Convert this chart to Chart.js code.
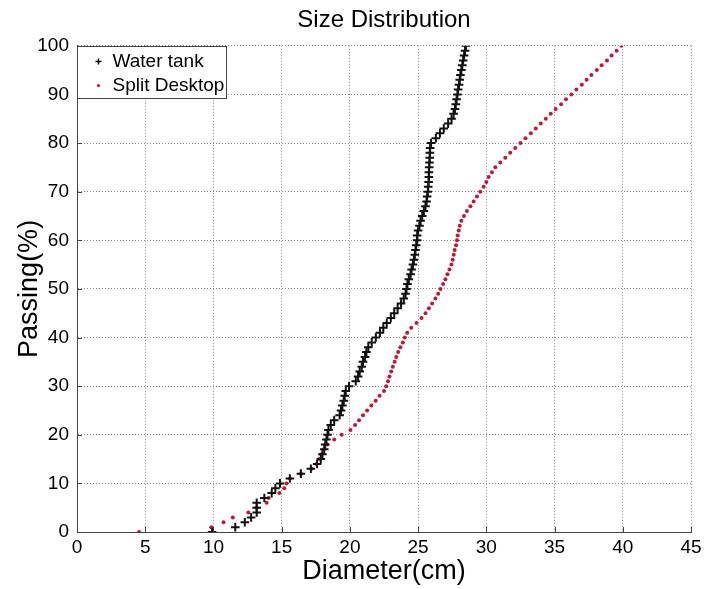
<!DOCTYPE html>
<html>
<head>
<meta charset="utf-8">
<script src="https://cdn.jsdelivr.net/npm/chart.js@4/dist/chart.umd.min.js"></script>
<style>
html,body{margin:0;padding:0;background:#fff;}
#wrap{width:706px;height:589px;}
</style>
</head>
<body>
<div id="wrap"><canvas id="c" width="706" height="589"></canvas></div>
<script>
// Passing levels (%), shared by both series
const passing = [];
for (let p = 0; p <= 100; p++) passing.push(p);

// Water tank diameters (cm) at each passing level
const waterTank = [
  9.9, 11.6, 12.3, 12.76, 13.17, 13.17, 13.17, 13.73, 14.27, 14.54,
  14.88, 15.6, 16.41, 17.14, 17.6, 17.87, 17.99, 18.12, 18.19, 18.28,
  18.36, 18.43, 18.6, 18.85, 19.25, 19.35, 19.45, 19.55, 19.62, 19.7,
  19.94, 20.43, 20.6, 20.72, 20.87, 20.96, 21.11, 21.21, 21.35, 21.6,
  21.9, 22.2, 22.45, 22.7, 23.0, 23.25, 23.5, 23.75, 23.95, 24.08,
  24.15, 24.22, 24.32, 24.45, 24.52, 24.62, 24.69, 24.76, 24.81, 24.86,
  24.93, 24.93, 25.0, 25.1, 25.18, 25.3, 25.42, 25.54, 25.62, 25.66,
  25.71, 25.74, 25.77, 25.79, 25.79, 25.81, 25.83, 25.85, 25.86, 25.88,
  25.95, 26.3, 26.6, 26.88, 27.2, 27.45, 27.6, 27.7, 27.76, 27.82,
  27.88, 27.93, 28.0, 28.05, 28.1, 28.17, 28.24, 28.3, 28.37, 28.44,
  28.5
];

// Split Desktop diameters (cm) at each passing level
const splitDesktop = [
  4.55, 9.84, 10.74, 11.42, 12.56, 13.17, 13.9, 14.05, 14.83, 15.19,
  15.36, 15.6, 16.41, 17.19, 17.55, 17.75, 17.9, 18.1, 18.35, 18.85,
  19.4, 20.04, 20.38, 20.67, 20.96, 21.26, 21.57, 21.89, 22.18, 22.5,
  22.66, 22.79, 22.9, 23.03, 23.15, 23.28, 23.4, 23.54, 23.7, 23.88,
  24.03, 24.2, 24.5, 24.88, 25.25, 25.54, 25.79, 26.03, 26.27, 26.47,
  26.64, 26.83, 27.0, 27.15, 27.3, 27.44, 27.54, 27.61, 27.68, 27.78,
  27.85, 27.9, 27.98, 28.05, 28.17, 28.36, 28.58, 28.83, 29.07, 29.31,
  29.56, 29.8, 30.0, 30.17, 30.41, 30.66, 31.02, 31.39, 31.75, 32.12,
  32.5, 32.87, 33.26, 33.62, 33.99, 34.36, 34.72, 35.08, 35.48, 35.84,
  36.23, 36.6, 37.0, 37.35, 37.7, 38.1, 38.45, 38.84, 39.18, 39.55,
  39.9
];

const seriesNames = ['Water tank', 'Split Desktop'];
const xTicks = [0, 5, 10, 15, 20, 25, 30, 35, 40, 45];
const yTicks = [0, 10, 20, 30, 40, 50, 60, 70, 80, 90, 100];
const titleText = 'Size Distribution';
const xTitle = 'Diameter(cm)';
const yTitle = 'Passing(%)';

const FONT = '"Liberation Sans", Arial, Helvetica, sans-serif';
const RED = '#c3173a';

function toPoints(xs) { return xs.map((x, i) => ({ x: x, y: passing[i] })); }

const innerTicks = {
  id: 'innerTicks',
  afterDatasetsDraw(chart) {
    const ctx = chart.ctx, a = chart.chartArea;
    const xs = chart.scales.x, ys = chart.scales.y;
    ctx.save();
    ctx.strokeStyle = '#444';
    ctx.lineWidth = 1;
    ctx.beginPath();
    xTicks.forEach(v => {
      const px = Math.round(xs.getPixelForValue(v)) + 0.5;
      ctx.moveTo(px, a.bottom); ctx.lineTo(px, a.bottom - 5);
    });
    yTicks.forEach(v => {
      const py = Math.round(ys.getPixelForValue(v)) + 0.5;
      ctx.moveTo(a.left, py); ctx.lineTo(a.left + 5, py);
    });
    ctx.stroke();
    ctx.restore();
  }
};

const boxLegend = {
  id: 'boxLegend',
  afterDraw(chart) {
    const ctx = chart.ctx, a = chart.chartArea;
    const x0 = Math.round(a.left) + 0.5, y0 = Math.round(a.top) + 0.5;
    const w = 149, h = 52;
    ctx.save();
    ctx.fillStyle = '#fff';
    ctx.fillRect(x0, y0, w, h);
    ctx.strokeStyle = '#444';
    ctx.lineWidth = 1;
    ctx.strokeRect(x0, y0, w, h);
    ctx.font = '19px ' + FONT;
    ctx.fillStyle = '#000';
    ctx.textBaseline = 'middle';
    ctx.textAlign = 'left';
    const rows = [y0 + 15, y0 + 39];
    ctx.strokeStyle = '#000';
    ctx.lineWidth = 1.4;
    ctx.beginPath();
    ctx.moveTo(x0 + 21 - 3, rows[0]); ctx.lineTo(x0 + 21 + 3, rows[0]);
    ctx.moveTo(x0 + 21, rows[0] - 3); ctx.lineTo(x0 + 21, rows[0] + 3);
    ctx.stroke();
    ctx.fillStyle = RED;
    ctx.beginPath();
    ctx.arc(x0 + 21, rows[1], 1.6, 0, Math.PI * 2);
    ctx.fill();
    ctx.fillStyle = '#000';
    ctx.fillText(chart.data.datasets[0].label, x0 + 35, rows[0]);
    ctx.fillText(chart.data.datasets[1].label, x0 + 35, rows[1]);
    ctx.restore();
  }
};

new Chart(document.getElementById('c'), {
  type: 'scatter',
  data: {
    datasets: [
      {
        label: seriesNames[0],
        data: toPoints(waterTank),
        pointStyle: 'cross',
        pointRadius: 4.3,
        pointBorderWidth: 2,
        borderColor: '#111',
        backgroundColor: '#111',
        showLine: false
      },
      {
        label: seriesNames[1],
        data: toPoints(splitDesktop),
        pointStyle: 'circle',
        pointRadius: 2,
        pointBorderWidth: 0,
        borderColor: RED,
        backgroundColor: RED,
        showLine: false
      }
    ]
  },
  options: {
    responsive: false,
    animation: false,
    layout: { padding: { left: 0, right: 15, top: 0, bottom: 0 } },
    plugins: {
      legend: { display: false },
      tooltip: { enabled: false },
      title: {
        display: true,
        text: titleText,
        fullSize: false,
        color: '#000',
        font: { family: FONT, size: 24, weight: 'normal' },
        padding: { top: 6, bottom: 11 }
      }
    },
    scales: {
      x: {
        type: 'linear',
        min: 0, max: 45,
        afterBuildTicks(s) { s.ticks = xTicks.map(v => ({ value: v })); },
        afterFit(s) { s.height = 57; },
        ticks: {
          color: '#000',
          font: { family: FONT, size: 19 },
          padding: 4,
          maxRotation: 0
        },
        grid: { color: '#8c8c8c', lineWidth: 1, drawTicks: false },
        border: { display: true, color: '#444', width: 1, dash: [1, 2] },
        title: {
          display: true, text: xTitle, color: '#000',
          font: { family: FONT, size: 27 },
          padding: { top: 0, bottom: 1 }
        }
      },
      y: {
        type: 'linear',
        min: 0, max: 100,
        afterBuildTicks(s) { s.ticks = yTicks.map(v => ({ value: v })); },
        afterFit(s) { s.width = 77; },
        ticks: {
          color: '#000',
          font: { family: FONT, size: 19 },
          padding: 8
        },
        grid: { color: '#8c8c8c', lineWidth: 1, drawTicks: false },
        border: { display: true, color: '#444', width: 1, dash: [1, 2] },
        title: {
          display: true, text: yTitle, color: '#000',
          font: { family: FONT, size: 27 },
          padding: { top: 13, bottom: 0 }
        }
      }
    }
  },
  plugins: [innerTicks, boxLegend]
});
</script>
</body>
</html>
